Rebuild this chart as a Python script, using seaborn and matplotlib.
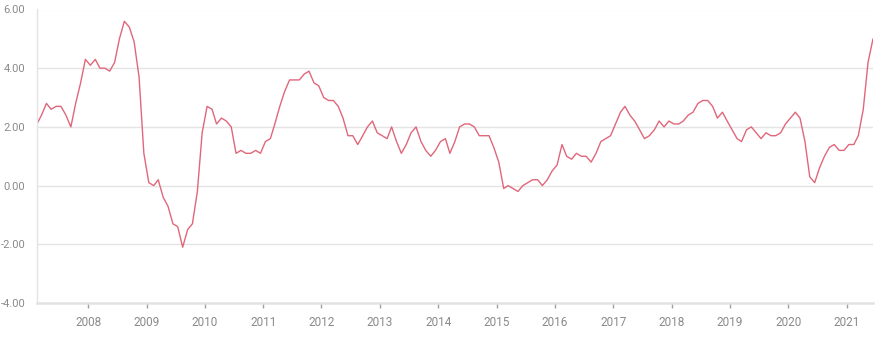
import numpy as np
import pandas as pd
import matplotlib
matplotlib.use("Agg")
import matplotlib.pyplot as plt
import seaborn as sns

# Monthly year-over-year values, first observation through the last one
values = [
    2.1, 2.4, 2.8, 2.6, 2.7, 2.7, 2.4, 2.0, 2.8, 3.5, 4.3, 4.1,
    4.3, 4.0, 4.0, 3.9, 4.2, 5.0, 5.6, 5.4, 4.9, 3.7, 1.1, 0.1,
    0.0, 0.2, -0.4, -0.7, -1.3, -1.4, -2.1, -1.5, -1.3, -0.2, 1.8, 2.7,
    2.6, 2.1, 2.3, 2.2, 2.0, 1.1, 1.2, 1.1, 1.1, 1.2, 1.1, 1.5,
    1.6, 2.1, 2.7, 3.2, 3.6, 3.6, 3.6, 3.8, 3.9, 3.5, 3.4, 3.0,
    2.9, 2.9, 2.7, 2.3, 1.7, 1.7, 1.4, 1.7, 2.0, 2.2, 1.8, 1.7,
    1.6, 2.0, 1.5, 1.1, 1.4, 1.8, 2.0, 1.5, 1.2, 1.0, 1.2, 1.5,
    1.6, 1.1, 1.5, 2.0, 2.1, 2.1, 2.0, 1.7, 1.7, 1.7, 1.3, 0.8,
    -0.1, 0.0, -0.1, -0.2, 0.0, 0.1, 0.2, 0.2, 0.0, 0.2, 0.5, 0.7,
    1.4, 1.0, 0.9, 1.1, 1.0, 1.0, 0.8, 1.1, 1.5, 1.6, 1.7, 2.1,
    2.5, 2.7, 2.4, 2.2, 1.9, 1.6, 1.7, 1.9, 2.2, 2.0, 2.2, 2.1,
    2.1, 2.2, 2.4, 2.5, 2.8, 2.9, 2.9, 2.7, 2.3, 2.5, 2.2, 1.9,
    1.6, 1.5, 1.9, 2.0, 1.8, 1.6, 1.8, 1.7, 1.7, 1.8, 2.1, 2.3,
    2.5, 2.3, 1.5, 0.3, 0.1, 0.6, 1.0, 1.3, 1.4, 1.2, 1.2, 1.4,
    1.4, 1.7, 2.6, 4.2, 5.0,
]
year_ticks = list(range(2008, 2022))
y_ticks = [-4, -2, 0, 2, 4, 6]

dates = pd.date_range("2007-02-01", periods=len(values), freq="MS") + pd.Timedelta(days=14)
df = pd.DataFrame({"date": dates, "value": values})

sns.set_theme(style="white")
plt.rcParams["font.family"] = ["Roboto", "DejaVu Sans"]

fig = plt.figure(figsize=(8.9, 3.43), dpi=100)
ax = fig.add_axes([37 / 890, 1 - 303 / 343, (873 - 37) / 890, (303 - 9.5) / 343])

sns.lineplot(data=df, x="date", y="value", ax=ax, color="#E0677A", linewidth=1.0)

ax.set_xlim(df["date"].iloc[0], df["date"].iloc[-1])
ax.set_ylim(-4, 6)
ax.set_yticks(y_ticks)
ax.set_yticklabels([f"{v:.2f}".replace("\u2212", "-") for v in y_ticks])
ax.set_xticks([pd.Timestamp(f"{y}-01-01") for y in year_ticks])
ax.set_xticklabels([str(y) for y in year_ticks])
ax.set_xlabel("")
ax.set_ylabel("")

for y in y_ticks[1:]:
    ax.axhline(y, color="#e4e4e4", linewidth=1.0 if y != 6 else 1.6, zorder=0)

for side in ["top", "right"]:
    ax.spines[side].set_visible(False)
ax.spines["left"].set_color("#e4e4e4")
ax.spines["left"].set_linewidth(1.0)
ax.spines["bottom"].set_color("#e2e2e2")
ax.spines["bottom"].set_linewidth(1.8)

ax.tick_params(axis="x", which="major", length=3.6, width=1, color="#a0a0a0",
               labelcolor="#8a8a8a", labelsize=8.5, pad=5.5, direction="out", bottom=True)
ax.tick_params(axis="y", which="major", length=0, labelcolor="#8a8a8a",
               labelsize=8.0, pad=8.5)

fig.savefig("out.png", dpi=100, facecolor="white")
